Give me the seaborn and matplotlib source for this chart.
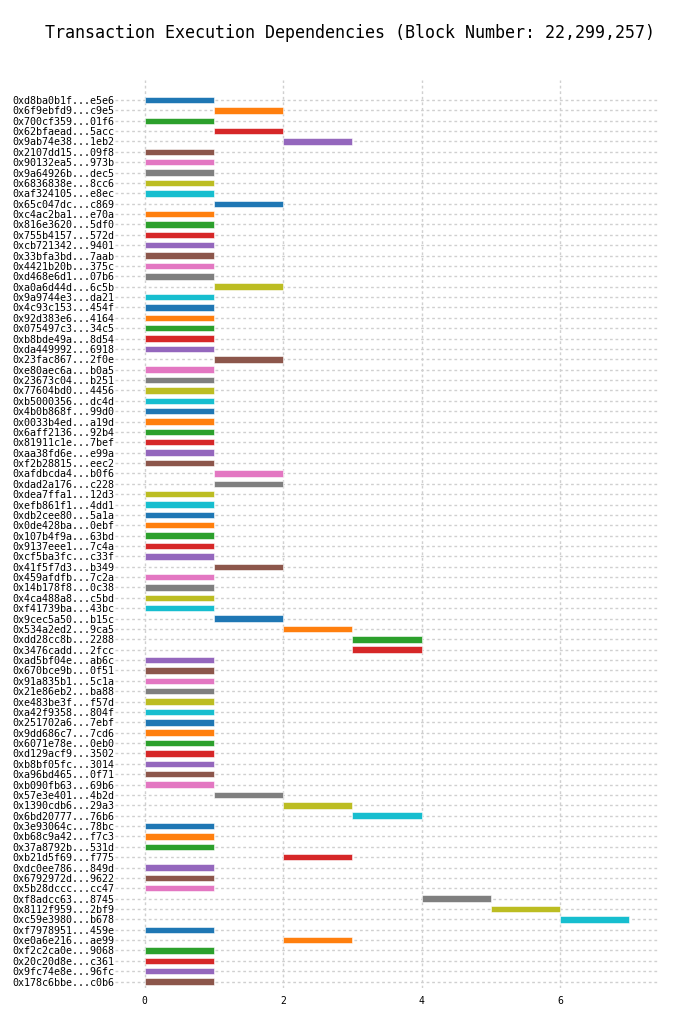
import numpy as np
import matplotlib
matplotlib.use("Agg")
import matplotlib.pyplot as plt
import seaborn as sns

# -----------------------------------
# Data
# -----------------------------------
tx_labels = [
    "0xd8ba0b1f...e5e6", "0x6f9ebfd9...c9e5", "0x700cf359...01f6", "0x62bfaead...5acc",
    "0x9ab74e38...1eb2", "0x2107dd15...09f8", "0x90132ea5...973b", "0x9a64926b...dec5",
    "0x6836838e...8cc6", "0xaf324105...e8ec", "0x65c047dc...c869", "0xc4ac2ba1...e70a",
    "0x816e3620...5df0", "0x755b4157...572d", "0xcb721342...9401", "0x33bfa3bd...7aab",
    "0x4421b20b...375c", "0xd468e6d1...07b6", "0xa0a6d44d...6c5b", "0x9a9744e3...da21",
    "0x4c93c153...454f", "0x92d383e6...4164", "0x075497c3...34c5", "0xb8bde49a...8d54",
    "0xda449992...6918", "0x23fac867...2f0e", "0xe80aec6a...b0a5", "0x23673c04...b251",
    "0x77604bd0...4456", "0xb5000356...dc4d", "0x4b0b868f...99d0", "0x0033b4ed...a19d",
    "0x6aff2136...92b4", "0x81911c1e...7bef", "0xaa38fd6e...e99a", "0xf2b28815...eec2",
    "0xafdbcda4...b0f6", "0xdad2a176...c228", "0xdea7ffa1...12d3", "0xefb861f1...4dd1",
    "0xdb2cee80...5a1a", "0x0de428ba...0ebf", "0x107b4f9a...63bd", "0x9137eee1...7c4a",
    "0xcf5ba3fc...c33f", "0x41f5f7d3...b349", "0x459afdfb...7c2a", "0x14b178f8...0c38",
    "0x4ca488a8...c5bd", "0xf41739ba...43bc", "0x9cec5a50...b15c", "0x534a2ed2...9ca5",
    "0xdd28cc8b...2288", "0x3476cadd...2fcc", "0xad5bf04e...ab6c", "0x670bce9b...0f51",
    "0x91a835b1...5c1a", "0x21e86eb2...ba88", "0xe483be3f...f57d", "0xa42f9358...804f",
    "0x251702a6...7ebf", "0x9dd686c7...7cd6", "0x6071e78e...0eb0", "0xd129acf9...3502",
    "0xb8bf05fc...3014", "0xa96bd465...0f71", "0xb090fb63...69b6", "0x57e3e401...4b2d",
    "0x1390cdb6...29a3", "0x6bd20777...76b6", "0x3e93064c...78bc", "0xb68c9a42...f7c3",
    "0x37a8792b...531d", "0xb21d5f69...f775", "0xdc0ee786...849d", "0x6792972d...9622",
    "0x5b28dccc...cc47", "0xf8adcc63...8745", "0x8112f959...2bf9", "0xc59e3980...b678",
    "0xf7978951...459e", "0xe0a6e216...ae99", "0xf2c2ca0e...9068", "0x20c20d8e...c361",
    "0x9fc74e8e...96fc", "0x178c6bbe...c0b6",
]

start_step = [
    0, 1, 0, 1, 2, 0, 0, 0, 0, 0,
    1, 0, 0, 0, 0, 0, 0, 0, 1, 0,
    0, 0, 0, 0, 0, 1, 0, 0, 0, 0,
    0, 0, 0, 0, 0, 0, 1, 1, 0, 0,
    0, 0, 0, 0, 0, 1, 0, 0, 0, 0,
    1, 2, 3, 3, 0, 0, 0, 0, 0, 0,
    0, 0, 0, 0, 0, 0, 0, 1, 2, 3,
    0, 0, 0, 2, 0, 0, 0, 4, 5, 6,
    0, 2, 0, 0, 0, 0,
]

end_step = [
    1, 2, 1, 2, 3, 1, 1, 1, 1, 1,
    2, 1, 1, 1, 1, 1, 1, 1, 2, 1,
    1, 1, 1, 1, 1, 2, 1, 1, 1, 1,
    1, 1, 1, 1, 1, 1, 2, 2, 1, 1,
    1, 1, 1, 1, 1, 2, 1, 1, 1, 1,
    2, 3, 4, 4, 1, 1, 1, 1, 1, 1,
    1, 1, 1, 1, 1, 1, 1, 2, 3, 4,
    1, 1, 1, 3, 1, 1, 1, 5, 6, 7,
    1, 3, 1, 1, 1, 1,
]

block_number = 22299257

# -----------------------------------
# Style
# -----------------------------------
sns.set_theme(style="whitegrid")
plt.rcParams["font.family"] = ["DejaVu Sans Mono"]
plt.rcParams["text.color"] = "black"
plt.rcParams["xtick.color"] = "black"
plt.rcParams["ytick.color"] = "black"

palette = sns.color_palette("tab10", 10)
bar_colors = [palette[i % 10] for i in range(len(tx_labels))]

# -----------------------------------
# Plot
# -----------------------------------
fig = plt.figure(figsize=(7, 10.32), dpi=100)
ax = fig.add_axes([0.1643, 0.043, 0.777, 0.8795])

y_pos = np.arange(len(tx_labels))
widths = np.array(end_step) - np.array(start_step)

ax.barh(
    y_pos,
    widths,
    left=start_step,
    height=0.62,
    color=bar_colors,
    edgecolor="white",
    linewidth=0.4,
    zorder=3
)

ax.set_yticks(y_pos)
ax.set_yticklabels(tx_labels, fontsize=7.2)
ax.set_xticks([0, 2, 4, 6])
ax.tick_params(axis="x", labelsize=7, pad=6)
ax.tick_params(axis="y", pad=0.6)
ax.tick_params(length=0)

ax.set_xlim(-0.43, 7.43)
ax.set_ylim(len(tx_labels) - 0.42, -1.93)

ax.grid(True, color="#d0d0d0", linestyle=(0, (2, 2)), linewidth=1)
ax.set_axisbelow(True)
for spine in ax.spines.values():
    spine.set_visible(False)

fig.suptitle(
    f"Transaction Execution Dependencies (Block Number: {block_number:,})",
    fontsize=12,
    y=0.968,
    va="center",
    x=0.5
)

fig.savefig("out.png", dpi=100)
